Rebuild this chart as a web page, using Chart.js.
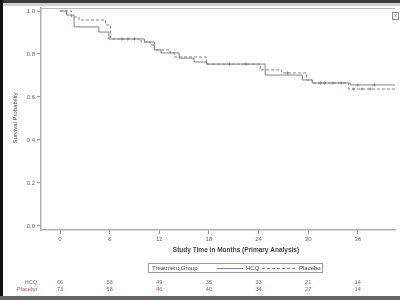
<!DOCTYPE html>
<html>
<head>
<meta charset="utf-8">
<script src="https://cdn.jsdelivr.net/npm/chart.js@4"></script>
<style>
  html, body { margin: 0; padding: 0; background: #fff; }
  #wrap { width: 400px; height: 300px; position: relative; }
</style>
</head>
<body>
<div id="wrap"><canvas id="kmChart" width="400" height="300"></canvas></div>
<script>
// Kaplan-Meier estimates (months, survival probability)
const hcqTimes = [0, 0.8, 1.7, 4.7, 5.9, 10.2, 11.4, 12.2, 14.4, 16.2, 17.7, 24.8, 29.3, 30.5, 35.1, 40.5];
const hcqSurv = [1.0, 0.981, 0.926, 0.902, 0.870, 0.856, 0.819, 0.805, 0.781, 0.763, 0.753, 0.702, 0.679, 0.665, 0.656, 0.656];
const placeboTimes = [0, 1.4, 2.3, 5.5, 6.1, 9.8, 10.9, 11.4, 13.3, 13.8, 17.7, 24.2, 26.8, 29.8, 30.5, 34.9, 40.5];
const placeboSurv = [1.0, 0.972, 0.958, 0.935, 0.870, 0.856, 0.842, 0.819, 0.805, 0.786, 0.753, 0.726, 0.712, 0.679, 0.665, 0.637, 0.637];

// censored observations
const hcqCensorT = [7.5, 9.0, 20.5, 22.5, 31.5, 33.0, 36.0, 38.0];
const hcqCensorS = [0.870, 0.870, 0.753, 0.753, 0.665, 0.665, 0.656, 0.656];
const placeboCensorT = [8.2, 27.5, 32.0, 34.0, 35.5, 36.5, 37.5];
const placeboCensorS = [0.870, 0.712, 0.665, 0.665, 0.637, 0.637, 0.637];

const xTicks = [0, 6, 12, 18, 24, 30, 36];
const yTicks = [0.0, 0.2, 0.4, 0.6, 0.8, 1.0];

// numbers at risk
const riskGroups = ["HCQ", "Placebo"];
const hcqAtRisk = [66, 56, 49, 35, 33, 21, 14];
const placeboAtRisk = [73, 58, 46, 40, 34, 27, 14];

const hcqColor = "#80809c";
const placeboColor = "#9c7494";
const FONT = "'Liberation Sans', Arial, sans-serif";

const toPoints = (xs, ys) => xs.map((x, i) => ({ x: x, y: ys[i] }));

// Frame, titles, legend and risk table
const decorPlugin = {
    id: "decor",
    beforeDraw(chart) {
        const c = chart.ctx;
        c.save();
        c.fillStyle = "#fff";
        c.fillRect(0, 0, 400, 300);
        c.restore();
    },
    afterDraw(chart) {
        const c = chart.ctx;
        const area = chart.chartArea;
        const xs = chart.scales.x;
        c.save();

        // top frame line of plot
        c.strokeStyle = "#b8b8b8";
        c.lineWidth = 1;
        c.beginPath();
        c.moveTo(area.left, area.top + 0.5);
        c.lineTo(area.right, area.top + 0.5);
        c.stroke();

        // small box top right
        c.strokeStyle = "#888";
        c.strokeRect(392.5, 12.5, 6, 7);
        c.fillStyle = "#666";
        c.font = "5px " + FONT;
        c.textAlign = "center";
        c.textBaseline = "middle";
        c.fillText("x", 395.5, 16);

        // axis titles
        c.fillStyle = "#444";
        c.font = "bold 6.5px " + FONT;
        c.fillText("Study Time in Months (Primary Analysis)", 236, 250);
        c.save();
        c.translate(15, 118);
        c.rotate(-Math.PI / 2);
        c.font = "6px " + FONT;
        c.fillText("Survival Probability", 0, 0);
        c.restore();

        // legend
        c.strokeStyle = "#999";
        c.lineWidth = 1;
        c.strokeRect(148.5, 263.5, 174, 9);
        c.fillStyle = "#444";
        c.font = "6px " + FONT;
        c.textAlign = "left";
        c.fillText("Treatment Group", 152, 268.5);
        c.strokeStyle = hcqColor;
        c.beginPath();
        c.moveTo(217, 268.5);
        c.lineTo(243, 268.5);
        c.stroke();
        c.fillText("HCQ", 246, 268.5);
        c.strokeStyle = placeboColor;
        c.setLineDash([3, 2]);
        c.beginPath();
        c.moveTo(262, 268.5);
        c.lineTo(296, 268.5);
        c.stroke();
        c.setLineDash([]);
        c.fillText("Placebo", 299, 268.5);

        // at-risk table
        const rows = [hcqAtRisk, placeboAtRisk];
        const rowY = [282, 289];
        const rowColor = ["#6a6ab0", "#c05050"];
        c.font = "5.5px " + FONT;
        rows.forEach((vals, r) => {
            c.fillStyle = rowColor[r];
            c.textAlign = "right";
            c.fillText(riskGroups[r], 37, rowY[r]);
            c.textAlign = "center";
            vals.forEach((v, i) => {
                c.fillText(String(v), xs.getPixelForValue(xTicks[i]), rowY[r]);
            });
        });

        // screen edges
        c.fillStyle = "#3a3a3a";
        c.fillRect(0, 0, 400, 3);
        c.fillStyle = "#cfcfcf";
        c.fillRect(0, 3, 400, 3);
        c.fillStyle = "#111";
        c.fillRect(0, 0, 3, 300);
        c.fillStyle = "#666";
        c.fillRect(0, 296, 400, 4);
        c.restore();
    }
};

const ctx = document.getElementById("kmChart").getContext("2d");
new Chart(ctx, {
    type: "line",
    data: {
        datasets: [
            {
                label: "HCQ",
                data: toPoints(hcqTimes, hcqSurv),
                borderColor: hcqColor,
                borderWidth: 1,
                stepped: true,
                pointRadius: 0,
                fill: false,
            },
            {
                label: "Placebo",
                data: toPoints(placeboTimes, placeboSurv),
                borderColor: placeboColor,
                borderWidth: 1,
                borderDash: [3, 2],
                stepped: true,
                pointRadius: 0,
                fill: false,
            },
            {
                label: "HCQ censored",
                data: toPoints(hcqCensorT, hcqCensorS),
                showLine: false,
                pointStyle: "cross",
                pointRadius: 1.5,
                borderColor: hcqColor,
                borderWidth: 1,
            },
            {
                label: "Placebo censored",
                data: toPoints(placeboCensorT, placeboCensorS),
                showLine: false,
                pointStyle: "cross",
                pointRadius: 1.5,
                borderColor: placeboColor,
                borderWidth: 1,
            },
        ],
    },
    options: {
        responsive: false,
        animation: false,
        layout: { padding: { left: 0, top: 8, right: 0, bottom: 0 } },
        plugins: {
            legend: { display: false },
            tooltip: { enabled: false },
        },
        scales: {
            x: {
                type: "linear",
                min: -2.3,
                max: 40.5,
                afterFit(scale) { scale.height = 70; },
                afterBuildTicks(scale) { scale.ticks = xTicks.map(v => ({ value: v })); },
                grid: { drawOnChartArea: false, tickLength: 4, color: "#999" },
                border: { display: true, color: "#b0b0b0", width: 1.5 },
                ticks: {
                    color: "#666",
                    padding: 2,
                    maxRotation: 0,
                    font: { family: FONT, size: 6 },
                    callback: v => String(v),
                },
            },
            y: {
                type: "linear",
                min: -0.019,
                max: 1.014,
                afterFit(scale) { scale.width = 41; },
                afterBuildTicks(scale) { scale.ticks = yTicks.map(v => ({ value: v })); },
                grid: { drawOnChartArea: false, tickLength: 4, color: "#999" },
                border: { display: true, color: "#b0b0b0", width: 1.5 },
                ticks: {
                    color: "#666",
                    padding: 2,
                    font: { family: FONT, size: 6 },
                    callback: v => v.toFixed(1),
                },
            },
        },
    },
    plugins: [decorPlugin],
});
</script>
</body>
</html>
